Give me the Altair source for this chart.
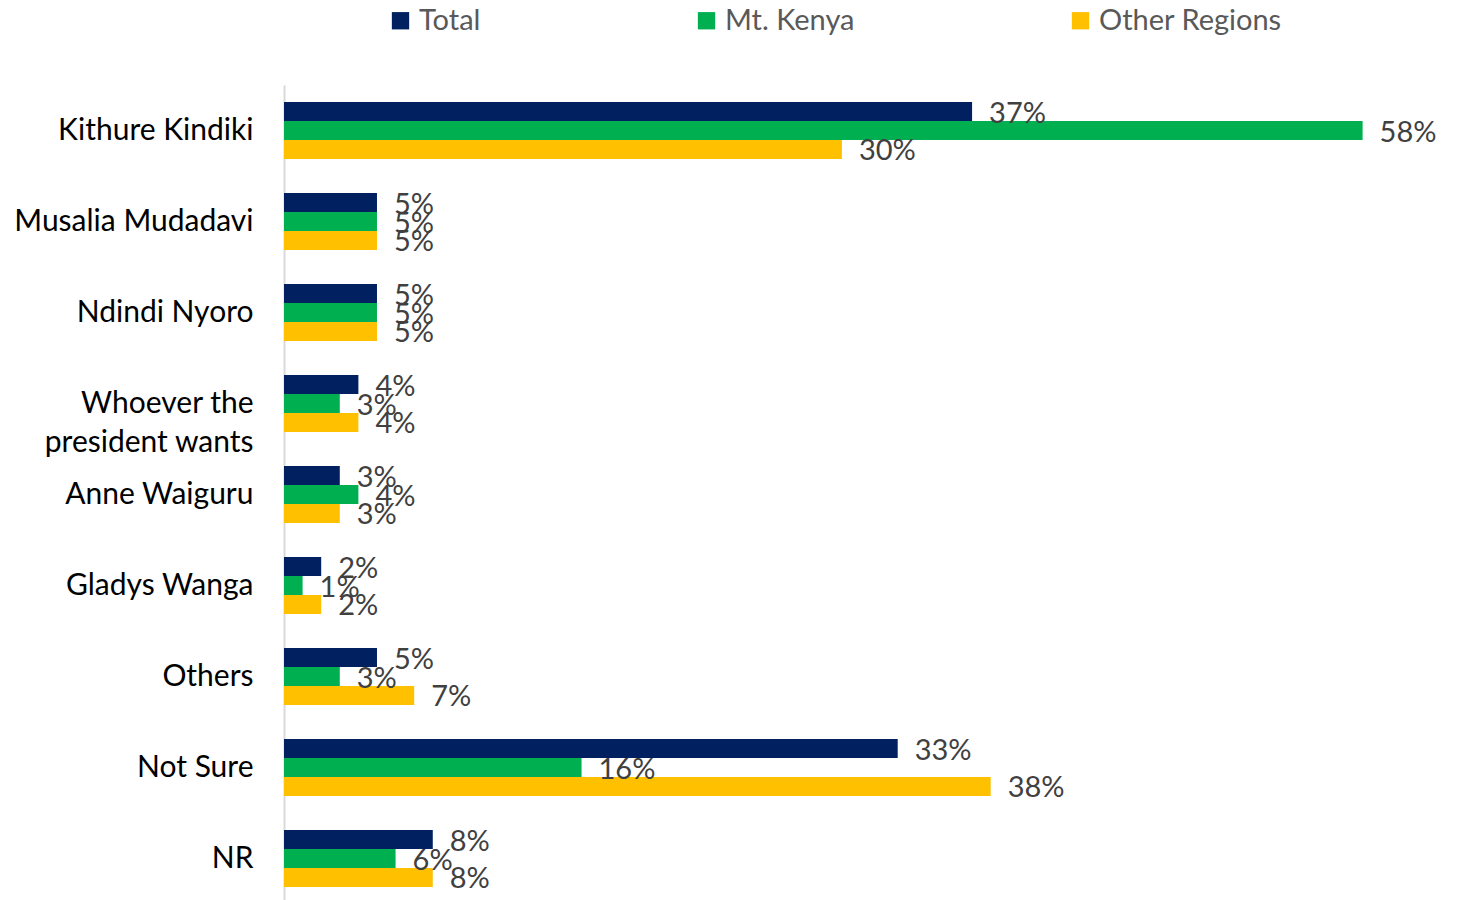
import altair as alt
import pandas as pd

categories = ["Kithure Kindiki", "Musalia Mudadavi", "Ndindi Nyoro", "Whoever the|president wants",
              "Anne Waiguru", "Gladys Wanga", "Others", "Not Sure", "NR"]
series = ["Total", "Mt. Kenya", "Other Regions"]
total = [37, 5, 5, 4, 3, 2, 5, 33, 8]
mt_kenya = [58, 5, 5, 3, 4, 1, 3, 16, 6]
other_regions = [30, 5, 5, 4, 3, 2, 7, 38, 8]
colors = ["#002060", "#00B050", "#FFC000"]

rows = []
for s, vals in zip(series, [total, mt_kenya, other_regions]):
    for c, v in zip(categories, vals):
        rows.append({"category": c, "series": s, "value": v, "label": f"{v}%"})
df = pd.DataFrame(rows)

FONT = "Lato"

y = alt.Y("category:N", sort=categories,
          scale=alt.Scale(paddingInner=0.374, paddingOuter=0.187),
          axis=alt.Axis(title=None, ticks=False, labelFontSize=30, labelColor="#000000",
                        labelFont=FONT, labelPadding=31, labelLimit=400,
                        labelExpr="split(datum.label, '|')", labelLineHeight=39,
                        domainColor="#d9d9d9", domainWidth=2))
yoff = alt.YOffset("series:N", sort=series, scale=alt.Scale(paddingInner=0, paddingOuter=0))
x = alt.X("value:Q", scale=alt.Scale(domain=[0, 62]), axis=None)

bars = alt.Chart(df).mark_bar(size=19).encode(
    x=x, y=y, yOffset=yoff,
    color=alt.Color("series:N", sort=series,
                    scale=alt.Scale(domain=series, range=colors),
                    legend=alt.Legend(title=None, orient="none", direction="horizontal",
                                      legendX=102, legendY=-79,
                                      symbolType="square", symbolSize=300, symbolStrokeWidth=0,
                                      labelFontSize=29, labelFont=FONT, labelColor="#595959",
                                      labelOffset=4, columnPadding=211, labelLimit=400))
)

texts = alt.Chart(df).mark_text(align="left", baseline="middle", dx=17, dy=2,
                                fontSize=29, font=FONT, color="#404040").encode(
    x=x, y=y, yOffset=yoff, text="label:N"
)

chart = alt.layer(bars, texts).properties(
    width=1153, height=819,
    padding={"left": 5, "top": -2, "right": 5, "bottom": 5}
).configure_view(stroke=None).configure_axis(grid=False)

chart.save("out.html", embed_options={"renderer": "svg", "actions": False})
